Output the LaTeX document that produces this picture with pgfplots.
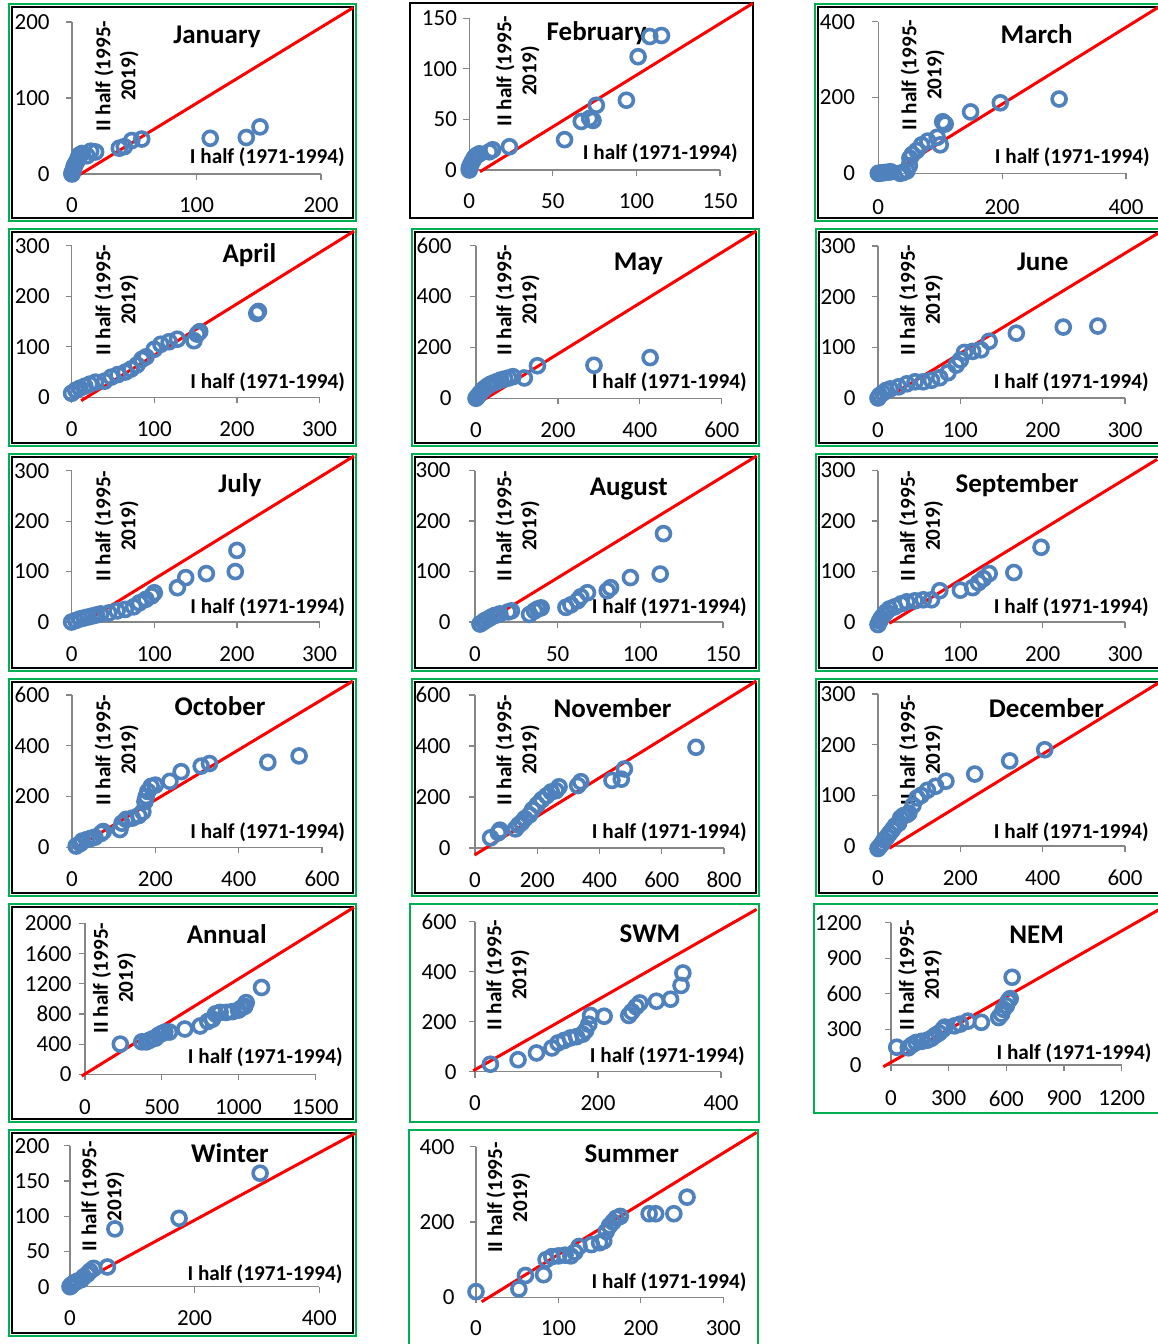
\documentclass[border=0pt]{standalone}
\usepackage{fontspec}
\setmainfont{Carlito}
\usepackage{pgfplots}
\pgfplotsset{compat=1.18}
\definecolor{mblue}{RGB}{79,129,189}
\definecolor{fgreen}{RGB}{0,176,80}
\definecolor{axgray}{RGB}{134,134,134}
\newcommand{\tickfont}{\fontsize{11.5}{13}\selectfont}
\newcommand{\titfont}{\fontsize{13.5}{16}\selectfont\bfseries}
\newcommand{\labfont}{\fontsize{10.6}{12.5}\selectfont\bfseries}
\pgfplotsset{
 pan/.style={scale only axis, anchor=south west, axis lines=left,
   axis line style={-,draw=axgray,line width=0.6pt},
   tick align=outside, major tick length=3pt,
   tick style={draw=axgray,line width=0.6pt},
   clip=false, xmin=0, ymin=0,
   tick label style={font=\tickfont, inner sep=0pt},
   /pgf/number format/assume math mode=true,
   /pgf/number format/1000 sep={}, scaled ticks=false,
   xticklabel style={anchor=center}, yticklabel style={anchor=east}},
 pts/.style={only marks, mark=o, mark size=3.5pt, mark options={draw=mblue, line width=1.8pt}},
 rl/.style={draw=red, line width=1.5pt, no marks},
 ygap/.style={yticklabel style={xshift=-#1+3pt}},
 xgap/.style={xticklabel style={yshift=-#1+3pt}},
}
\begin{document}
\begin{tikzpicture}
\path[use as bounding box] (0,0) rectangle (578.5pt,-672pt);
\begin{scope}[x=0.5pt,y=-0.5pt]
% frames
\draw[fgreen,line width=1.2pt] (9,4) rectangle (356,221);
\draw[black,line width=0.8pt] (12,7) rectangle (353,218);
\draw[black,line width=0.8pt] (410,3) rectangle (753,218);
\draw[fgreen,line width=1.2pt] (815,4) rectangle (1175,221);
\draw[black,line width=0.8pt] (818,7) rectangle (1172,218);
\foreach \t in {229,454,679}{
 \draw[fgreen,line width=1.2pt] (9,\t) rectangle (356,\t+217);
 \draw[black,line width=0.8pt] (12,\t+3) rectangle (353,\t+214);
 \draw[fgreen,line width=1.2pt] (412,\t) rectangle (759,\t+217);
 \draw[black,line width=0.8pt] (415,\t+3) rectangle (756,\t+214);
 \draw[fgreen,line width=1.2pt] (816,\t) rectangle (1175,\t+217);
 \draw[black,line width=0.8pt] (819,\t+3) rectangle (1172,\t+214);
}
\draw[fgreen,line width=1.2pt] (9,904) rectangle (356,1122);
\draw[black,line width=0.8pt] (12,907) rectangle (353,1119);
\draw[fgreen,line width=1.2pt] (410,904) rectangle (759,1122);
\draw[fgreen,line width=1.2pt] (814,904) rectangle (1175,1113);
\draw[fgreen,line width=1.2pt] (9,1130) rectangle (356,1336);
\draw[black,line width=0.8pt] (12,1133) rectangle (353,1333);
\draw[fgreen,line width=1.2pt] (409,1130) rectangle (758,1360);
% titles
\foreach \x/\y/\t in {217/43/January,596.7/40/February,1036.7/43/March,
 249.4/262/April,638.4/270/May,1042.8/270/June,
 239.9/492/July,628.8/495/August,1017/492/September,
 220/715/October,612.5/717/November,1046.5/717/December,
 226.7/943/Annual,650/942/SWM,1036.7/943/NEM,
 230/1162/Winter,631.7/1162/Summer}
 \node[anchor=base,inner sep=0pt,font=\titfont] at (\x,\y) {\t};
% x labels
\foreach \x/\y in {345/163,738/159,1150/163,
 345.4/388,747/388,1149/388,
 345.4/613,747/613,1149/613,
 345.4/838,747/838,1149/838,
 343/1063,745/1062,1151.7/1059,
 342.7/1280,746.7/1288}
 \node[anchor=base east,inner sep=0pt,font=\labfont] at (\x,\y) {I half (1971-1994)};
% y labels
\foreach \x/\y in {116.5/76,517.5/71,922.5/75,
 116.6/300,517.5/300,921/300,
 116.6/526,517.5/526,921/526,
 116.6/750,517.5/750,921/750,
 114.2/978,507.5/975,920/975,
 102.5/1196.5,508.3/1197.5}
 \node[rotate=90,align=center,inner sep=0pt,font=\labfont] at (\x,\y) {II half (1995-\\2019)};
\end{scope}

% January
\begin{axis}[pan, at={(36pt,-87pt)}, width=124.5pt, height=76pt, xmax=200, ymax=200,
 xtick={0,100,200}, ytick={0,100,200}, ygap=11pt, xgap=15.5pt]
\addplot[pts] coordinates {(0,0) (0,1) (0.5,3) (1,5) (1.5,8) (2,11) (3,14) (4,17) (5,21) (6,25) (8,27) (12,24) (15,30) (19,29) (38,34) (42,36) (48,44) (56,46) (111,47) (140,48) (151,62)};
\addplot[rl] coordinates {(6,-1) (226,219)};
\end{axis}
% February
\begin{axis}[pan, at={(234.65pt,-85pt)}, width=125.35pt, height=75.85pt, xmax=150, ymax=150,
 xtick={0,50,100,150}, ytick={0,50,100,150}, ygap=6pt, xgap=15.8pt]
\addplot[pts] coordinates {(0,0) (0,2) (0.5,4) (1,6) (2,9) (3,12) (4,14) (6,16) (12,18) (14,20) (24,23) (57,30) (67,48) (72,51) (74,49) (76,64) (94,69) (101,112) (108,132) (115,133)};
\addplot[rl] coordinates {(6.4,-1.7) (169.7,164.9)};
\end{axis}
% March
\begin{axis}[pan, at={(439.15pt,-86.65pt)}, width=123.85pt, height=75.8pt, xmax=400, ymax=400,
 xtick={0,200,400}, ytick={0,200,400}, ygap=11.5pt, xgap=16.7pt]
\addplot[pts] coordinates {(0,0) (2,0) (5,1) (10,2) (15,3) (20,4) (35,0) (40,2) (46,6) (50,20) (51,40) (55,50) (62,60) (70,75) (80,85) (95,95) (100,75) (104,136) (108,130) (149,162) (197,186) (292,196)};
\addplot[rl] coordinates {(13.6,-6.3) (455,441)};
\end{axis}
% April
\begin{axis}[pan, at={(35.8pt,-198.65pt)}, width=124pt, height=75.8pt, xmax=300, ymax=300,
 xtick={0,100,200,300}, ytick={0,100,200,300}, ygap=10.7pt, xgap=16pt]
\addplot[pts] coordinates {(0,8) (5,14) (10,18) (16,22) (22,26) (29,30) (40,32) (48,40) (56,45) (65,50) (72,56) (79,64) (85,75) (90,80) (100,95) (108,105) (118,110) (128,115) (148,112) (152,125) (155,130) (224,166) (226,170)};
\addplot[rl] coordinates {(11.6,-6.7) (341.8,329)};
\end{axis}
% May
\begin{axis}[pan, at={(238pt,-199.15pt)}, width=122.9pt, height=76.3pt, xmax=600, ymax=600,
 xtick={0,200,400,600}, ytick={0,200,400,600}, ygap=12pt, xgap=16pt]
\addplot[pts] coordinates {(0,0) (3,5) (6,12) (10,20) (15,30) (20,38) (28,48) (35,55) (42,60) (50,65) (60,72) (70,76) (80,80) (90,85) (118,80) (150,128) (288,130) (425,160)};
\addplot[rl] coordinates {(18,-6.7) (684.6,657.9)};
\end{axis}
% June
\begin{axis}[pan, at={(439pt,-199pt)}, width=123.5pt, height=76pt, xmax=300, ymax=300,
 xtick={0,100,200,300}, ytick={0,100,200,300}, ygap=11pt, xgap=16pt]
\addplot[pts] coordinates {(0,0) (2,5) (6,10) (10,15) (15,18) (25,22) (35,28) (45,32) (55,32) (65,35) (75,40) (85,50) (95,65) (100,75) (105,90) (115,92) (125,95) (135,112) (168,128) (225,140) (267,142)};
\addplot[rl] coordinates {(8.5,-2) (342.5,327.6)};
\end{axis}
% July
\begin{axis}[pan, at={(35.8pt,-311pt)}, width=124pt, height=75.65pt, xmax=300, ymax=300,
 xtick={0,100,200,300}, ytick={0,100,200,300}, ygap=11pt, xgap=16pt]
\addplot[pts] coordinates {(0,0) (5,3) (10,6) (15,8) (20,10) (25,12) (30,14) (35,16) (45,18) (55,22) (65,25) (75,30) (82,38) (90,45) (97,52) (100,58) (128,68) (138,88) (163,96) (198,100) (200,142)};
\addplot[rl] coordinates {(11.4,-4) (341.6,329)};
\end{axis}
% August
\begin{axis}[pan, at={(237.5pt,-311pt)}, width=124pt, height=75.75pt, xmax=150, ymax=300,
 xtick={0,50,100,150}, ytick={0,100,200,300}, ygap=12pt, xgap=16pt]
\addplot[pts] coordinates {(3,-4) (5,0) (6,3) (8,6) (10,10) (12,13) (15,16) (20,20) (22,22) (33,15) (36,22) (38,26) (40,28) (55,29) (58,34) (62,42) (64,50) (68,58) (80,62) (82,68) (94,88) (112,95) (114,175)};
\addplot[rl] coordinates {(5,-2.6) (170.3,328.7)};
\end{axis}
% September
\begin{axis}[pan, at={(439pt,-311pt)}, width=123.5pt, height=75.75pt, xmax=300, ymax=300,
 xtick={0,100,200,300}, ytick={0,100,200,300}, ygap=11pt, xgap=16pt]
\addplot[pts] coordinates {(0,-5) (2,2) (4,8) (7,14) (10,20) (14,26) (20,30) (28,36) (35,40) (45,42) (55,44) (65,44) (75,62) (100,63) (115,68) (122,78) (128,86) (135,96) (165,98) (198,148)};
\addplot[rl] coordinates {(13.7,-2.6) (339,322)};
\end{axis}
% October
\begin{axis}[pan, at={(36pt,-423.65pt)}, width=125pt, height=76.15pt, xmax=600, ymax=600,
 xtick={0,200,400,600}, ytick={0,200,400,600}, ygap=11pt, xgap=16pt]
\addplot[pts] coordinates {(10,5) (20,15) (25,25) (35,30) (45,35) (55,40) (70,55) (75,62) (115,70) (120,95) (130,110) (145,115) (160,125) (170,140) (175,180) (178,200) (182,220) (190,240) (200,245) (235,260) (262,298) (310,320) (330,330) (470,335) (545,360)};
\addplot[rl] coordinates {(4.3,-6.7) (674,655)};
\end{axis}
% November
\begin{axis}[pan, at={(237.5pt,-424pt)}, width=124.5pt, height=76.5pt, xmax=800, ymax=600,
 xtick={0,200,400,600,800}, ytick={0,200,400,600}, ygap=12pt, xgap=16pt]
\addplot[pts] coordinates {(50,40) (75,60) (80,70) (130,75) (140,90) (150,100) (160,115) (175,130) (185,150) (200,170) (215,190) (230,205) (245,220) (260,225) (270,240) (330,245) (340,260) (440,265) (470,270) (480,310) (710,395)};
\addplot[rl] coordinates {(-1.6,-27.5) (904,655)};
\end{axis}
% December
\begin{axis}[pan, at={(439pt,-423pt)}, width=123.5pt, height=76pt, xmax=600, ymax=300,
 xtick={0,200,400,600}, ytick={0,100,200,300}, ygap=11pt, xgap=16pt]
\addplot[pts] coordinates {(0,-5) (5,0) (10,5) (15,12) (22,18) (28,25) (35,32) (42,40) (50,45) (55,55) (62,60) (70,62) (75,65) (85,80) (95,95) (105,100) (120,110) (140,118) (165,128) (235,142) (320,168) (405,190)};
\addplot[rl] coordinates {(27.4,-4.5) (685,323.7)};
\end{axis}
% Annual
\begin{axis}[pan, at={(42.5pt,-537.15pt)}, width=115.15pt, height=75.5pt, xmax=1500, ymax=2000,
 xtick={0,500,1000,1500}, ytick={0,400,800,1200,1600,2000}, ygap=6.5pt, xgap=16.2pt]
\addplot[pts] coordinates {(230,400) (370,430) (400,430) (420,450) (440,470) (460,480) (480,520) (500,540) (520,560) (550,560) (650,600) (750,640) (800,700) (830,730) (850,800) (880,820) (920,820) (960,830) (1000,850) (1020,880) (1040,900) (1050,950) (1150,1150)};
\addplot[rl] coordinates {(-21.5,-22.5) (1752,2212)};
\end{axis}
% SWM
\begin{axis}[pan, at={(237.5pt,-535.85pt)}, width=123pt, height=75pt, xmax=400, ymax=600,
 xtick={0,200,400}, ytick={0,200,400,600}, ygap=9pt, xgap=15.8pt]
\addplot[pts] coordinates {(25,30) (70,48) (100,75) (125,95) (135,115) (145,125) (155,135) (165,140) (175,150) (180,165) (185,190) (188,225) (210,222) (250,225) (255,240) (262,260) (268,275) (295,282) (318,290) (335,345) (338,395)};
\addplot[rl] coordinates {(-2.8,4) (458,649.6)};
\end{axis}
% NEM
\begin{axis}[pan, at={(445.5pt,-532.5pt)}, width=115.35pt, height=71.15pt, xmax=1200, ymax=1200,
 xtick={0,300,600,900,1200}, ytick={0,300,600,900,1200}, ygap=14.5pt, xgap=16.7pt]
\addplot[pts] coordinates {(30,150) (90,145) (110,170) (130,190) (160,200) (190,210) (210,225) (230,250) (250,270) (270,300) (280,320) (330,330) (360,345) (400,370) (470,360) (560,400) (575,430) (585,470) (600,500) (610,540) (620,560) (630,740)};
\addplot[rl] coordinates {(-40,-14.3) (1399,1315)};
\end{axis}
% Winter
\begin{axis}[pan, at={(35pt,-643.35pt)}, width=124.65pt, height=70.5pt, xmax=400, ymax=200,
 xtick={0,200,400}, ytick={0,50,100,150,200}, ygap=10pt, xgap=15.8pt]
\addplot[pts] coordinates {(0,0) (1,1) (2,2) (3,3) (5,4) (8,6) (12,8) (18,10) (22,14) (28,18) (32,22) (38,26) (60,28) (72,82) (175,97) (305,161)};
\addplot[rl] coordinates {(2.7,0) (457.5,217.6)};
\end{axis}
% Summer
\begin{axis}[pan, at={(238pt,-648.65pt)}, width=123.65pt, height=75.3pt, xmax=300, ymax=400,
 xtick={0,100,200,300}, ytick={0,200,400}, ygap=10.5pt, xgap=15.5pt]
\addplot[pts] coordinates {(0,15) (52,22) (60,58) (82,60) (85,100) (92,108) (100,110) (108,112) (115,110) (120,120) (125,135) (140,140) (150,145) (155,150) (158,175) (162,190) (166,200) (170,210) (175,215) (210,222) (218,222) (240,222) (256,266)};
\addplot[rl] coordinates {(6.9,-11.7) (340.5,438)};
\end{axis}
\end{tikzpicture}
\end{document}
